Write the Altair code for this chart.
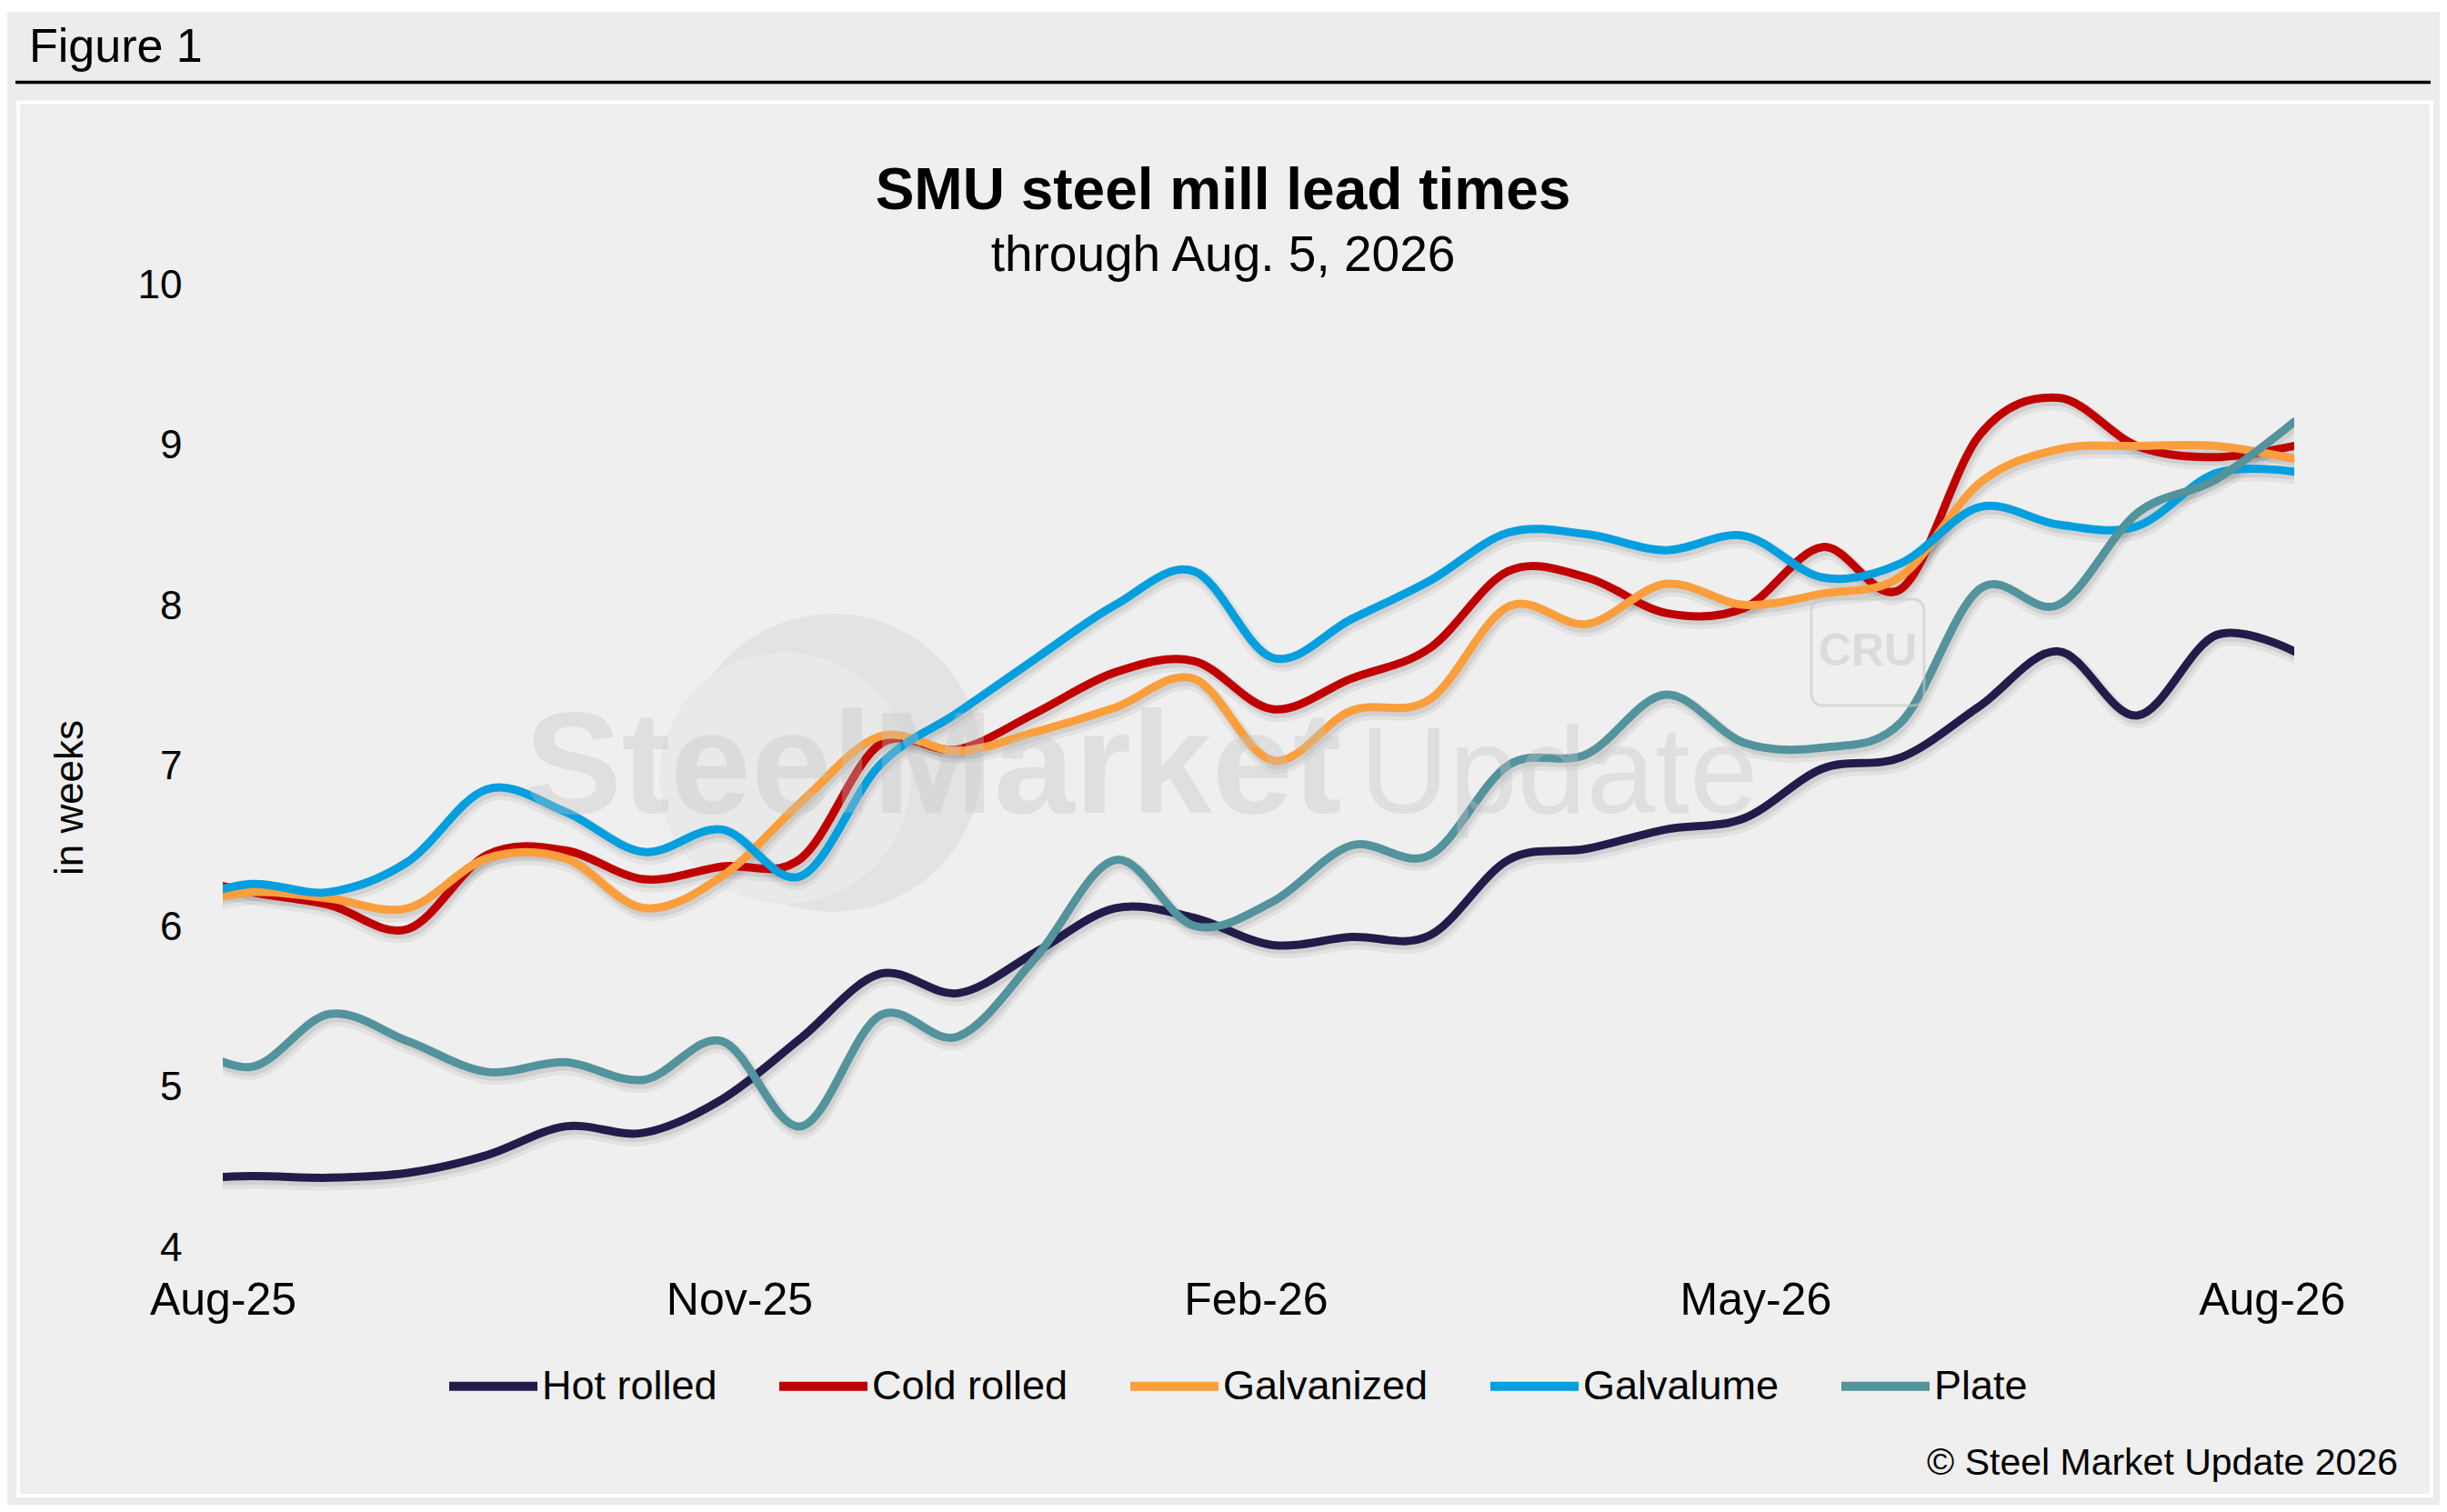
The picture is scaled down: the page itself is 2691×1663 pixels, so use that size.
import altair as alt
import pandas as pd

# ---------------- data ----------------
dates = ["2025-07-23", "2025-08-06", "2025-08-20", "2025-09-03", "2025-09-17",
         "2025-10-01", "2025-10-15", "2025-10-29", "2025-11-12", "2025-11-26",
         "2025-12-10", "2025-12-24", "2026-01-07", "2026-01-21", "2026-02-04",
         "2026-02-18", "2026-03-04", "2026-03-18", "2026-04-01", "2026-04-15",
         "2026-04-29", "2026-05-13", "2026-05-27", "2026-06-10", "2026-06-24",
         "2026-07-08", "2026-07-22", "2026-08-05"]

series_names = ["Hot rolled", "Cold rolled", "Galvanized", "Galvalume", "Plate"]

hot_rolled = [4.43, 4.45, 4.44, 4.47, 4.58, 4.76, 4.72, 4.93, 5.31, 5.71, 5.59, 5.85, 6.12, 6.06,
              5.89, 5.94, 5.95, 6.42, 6.49, 6.61, 6.68, 6.99, 7.06, 7.38, 7.72, 7.32, 7.82, 7.72]
cold_rolled = [6.33, 6.22, 6.14, 5.99, 6.45, 6.48, 6.30, 6.38, 6.43, 7.14, 7.11, 7.34, 7.59, 7.66,
               7.36, 7.55, 7.74, 8.22, 8.18, 7.96, 7.99, 8.37, 8.11, 9.07, 9.30, 9.00, 8.93, 9.00]
galvanized = [6.12, 6.22, 6.18, 6.12, 6.43, 6.43, 6.12, 6.32, 6.78, 7.19, 7.10, 7.22, 7.37, 7.55,
              7.04, 7.35, 7.42, 8.00, 7.89, 8.14, 8.01, 8.08, 8.19, 8.77, 8.98, 9.00, 9.00, 8.92]
galvalume = [6.15, 6.27, 6.22, 6.41, 6.86, 6.72, 6.47, 6.61, 6.32, 7.01, 7.34, 7.68, 8.01, 8.22,
             7.68, 7.92, 8.16, 8.46, 8.45, 8.35, 8.44, 8.18, 8.27, 8.62, 8.51, 8.50, 8.83, 8.84]
plate = [5.33, 5.13, 5.46, 5.29, 5.10, 5.16, 5.05, 5.29, 4.76, 5.45, 5.32, 5.82, 6.42, 6.01,
         6.16, 6.51, 6.45, 7.01, 7.08, 7.45, 7.15, 7.12, 7.28, 8.11, 8.01, 8.58, 8.79, 9.15]

y_ticks = [4, 5, 6, 7, 8, 9, 10]
x_tick_dates = [(2025, 8), (2025, 11), (2026, 2), (2026, 5), (2026, 8)]

colors = ["#221c4a", "#c00000", "#fa9f3c", "#049fdf", "#52939c"]

rows = []
for name, vals in zip(series_names, [hot_rolled, cold_rolled, galvanized, galvalume, plate]):
    for d, v in zip(dates, vals):
        rows.append({"date": d, "series": name, "value": v})
df = pd.DataFrame(rows)

# ---------------- layout ----------------
W, H = 2278, 1059
FONT = "Liberation Sans"
one = alt.Data(values=[{"a": 1}])

x_enc = alt.X(
    "date:T",
    scale=alt.Scale(type="utc",
                    domain=[alt.DateTime(year=2025, month=8, date=1, utc=True),
                            alt.DateTime(year=2026, month=8, date=5, utc=True)]),
    axis=alt.Axis(title=None, format="%b-%y",
                  values=[alt.DateTime(year=y, month=m, date=1, utc=True) for y, m in x_tick_dates],
                  labelFontSize=50, labelFont=FONT, labelColor="#000000", labelPadding=32,
                  ticks=False, tickSize=0, domain=False, grid=False, labelFlush=False,
                  labelOverlap=False, zindex=1),
)
y_enc = alt.Y(
    "value:Q",
    scale=alt.Scale(domain=[4, 10], nice=False, zero=False),
    axis=alt.Axis(values=y_ticks, format="d", title="in weeks", titleFontSize=44,
                  titleFont=FONT, titleFontWeight="normal", titleColor="#000000",
                  titleX=-155, titleY=563, titleAngle=270, titleAlign="center",
                  titleBaseline="alphabetic", labelFontSize=44, labelFont=FONT,
                  labelColor="#000000", labelPadding=45, ticks=False, tickSize=0,
                  domain=False, grid=False, zindex=1),
)

base = alt.Chart(df)

white_strip = alt.Chart(one).mark_rect(fill="#ffffff").encode(
    x=alt.value(-237), x2=alt.value(2438), y=alt.value(-306), y2=alt.value(-301))

panel = alt.Chart(one).mark_rect(fill="#efefef", stroke="#ffffff", strokeWidth=4).encode(
    x=alt.value(-225), x2=alt.value(2429), y=alt.value(-201.5), y2=alt.value(1331))

top_rule = alt.Chart(one).mark_rule(color="#000000", strokeWidth=3.5).encode(
    x=alt.value(-228), x2=alt.value(2428), y=alt.value(-223.5))

logo_outer = alt.Chart(one).mark_circle(color="#e3e3e3", opacity=1, size=107521).encode(
    x=alt.value(671), y=alt.value(525))
logo_inner = alt.Chart(one).mark_circle(color="#e9e9e9", opacity=1, size=76454).encode(
    x=alt.value(618), y=alt.value(542))

shadow1 = base.mark_line(interpolate="cardinal", color="#000000", opacity=0.05, strokeWidth=18,
                         strokeCap="round", strokeJoin="round", xOffset=2, yOffset=5,
                         clip=True).encode(x=x_enc, y=y_enc, detail="series:N")
shadow2 = base.mark_line(interpolate="cardinal", color="#000000", opacity=0.08, strokeWidth=11,
                         strokeCap="round", strokeJoin="round", xOffset=2, yOffset=4,
                         clip=True).encode(x=x_enc, y=y_enc, detail="series:N")

lines = base.mark_line(interpolate="cardinal", strokeWidth=9, strokeCap="round",
                       strokeJoin="round", clip=True).encode(
    x=x_enc, y=y_enc,
    color=alt.Color("series:N",
                    scale=alt.Scale(domain=series_names, range=colors),
                    legend=alt.Legend(title=None, orient="none", legendX=244, legendY=1157,
                                      direction="horizontal", symbolType="stroke",
                                      symbolSize=9409, symbolStrokeWidth=10,
                                      labelFontSize=45, labelFont=FONT, labelColor="#000000",
                                      labelLimit=1000, labelOffset=0, columnPadding=48,
                                      padding=0, zindex=1)),
)

wm_steel = alt.Chart(one).mark_text(text="SteelMarket", font=FONT, fontSize=160, fontWeight="bold",
                                    color="#c4c4c4", opacity=0.35, align="left",
                                    baseline="alphabetic").encode(x=alt.value(332), y=alt.value(580))
wm_update = alt.Chart(one).mark_text(text="Update", font=FONT,
                                     fontSize=136, fontWeight="normal", color="#c4c4c4",
                                     opacity=0.35, align="left",
                                     baseline="alphabetic").encode(x=alt.value(1250), y=alt.value(580))
cru_box = alt.Chart(one).mark_rect(fillOpacity=0, stroke="#c8c8c8", strokeOpacity=0.6,
                                   strokeWidth=3, cornerRadius=12).encode(
    x=alt.value(1747), x2=alt.value(1871), y=alt.value(345), y2=alt.value(462))
cru_text = alt.Chart(one).mark_text(text="CRU", font=FONT,
                                    fontSize=50, fontWeight="bold", color="#c4c4c4", opacity=0.45,
                                    align="center", baseline="middle").encode(
    x=alt.value(1809), y=alt.value(403))

fig_label = alt.Chart(one).mark_text(text="Figure 1", font=FONT, fontSize=52, color="#000000",
                                     align="left", baseline="alphabetic").encode(
    x=alt.value(-213), y=alt.value(-246))
title = alt.Chart(one).mark_text(text="SMU steel mill lead times", font=FONT, fontSize=64,
                                 fontWeight="bold", color="#000000", align="center",
                                 baseline="alphabetic").encode(x=alt.value(1100), y=alt.value(-84))
subtitle = alt.Chart(one).mark_text(text="through Aug. 5, 2026", font=FONT, fontSize=55,
                                    color="#000000", align="center",
                                    baseline="alphabetic").encode(x=alt.value(1100), y=alt.value(-16))
copyright_t = alt.Chart(one).mark_text(text="© Steel Market Update 2026", font=FONT, fontSize=41,
                                       color="#000000", align="right",
                                       baseline="alphabetic").encode(x=alt.value(2392), y=alt.value(1308))

chart = alt.layer(
    white_strip, panel, top_rule, logo_outer, logo_inner, shadow1, shadow2, lines,
    wm_steel, wm_update, cru_box, cru_text, fig_label, title, subtitle, copyright_t
).properties(
    width=W, height=H,
    autosize=alt.AutoSizeParams(type="none"),
    padding={"left": 237, "top": 306, "right": 160, "bottom": 282},
).configure(background="#ececec", font=FONT).configure_view(strokeWidth=0)

chart.save("out.html", embed_options={"renderer": "svg", "actions": False})
